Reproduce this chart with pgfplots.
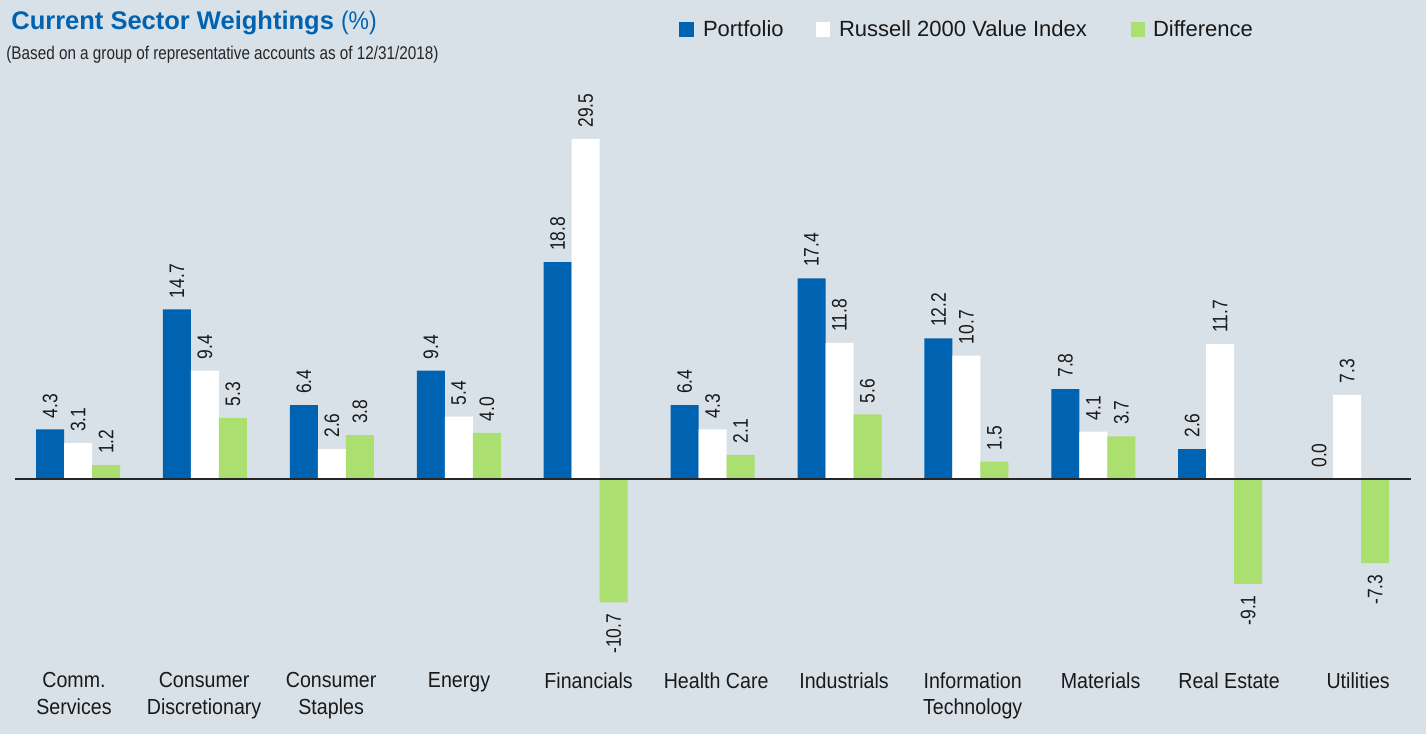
\documentclass[border=0pt]{standalone}
\usepackage{fontspec}
\setmainfont{Liberation Sans}
\newfontfamily\cond[FakeStretch=0.9]{Liberation Sans}
\newfontfamily\condB[FakeStretch=0.83]{Liberation Sans}
\usepackage{pgfplots}
\pgfplotsset{compat=1.18}
\definecolor{pblue}{RGB}{0,99,177}
\definecolor{pgreen}{RGB}{171,223,112}
\definecolor{bgc}{RGB}{217,225,232}
\definecolor{tblue}{RGB}{0,99,177}
\begin{document}
\begin{tikzpicture}
\fill[bgc] (0,0) rectangle (713pt,367pt);
\begin{axis}[
  at={(7.3pt,35.25pt)}, anchor=south west,
  scale only axis, width=698pt, height=271pt,
  xmin=-0.5, xmax=10.5, ymin=-16, ymax=31,
  axis line style={draw=none},
  ytick=\empty,
  xtick={-0.032,0.993,1.994,3.002,4.023,5.028,6.036,7.049,8.057,9.070,10.087},
  xticklabels={{Comm.\\Services},{Consumer\\Discretionary},{Consumer\\Staples},{Energy},{Financials},{Health Care},{Industrials},{Information\\Technology},{Materials},{Real Estate},{Utilities}},
  major tick length=0pt,
  x tick label style={font=\cond\fontsize{10.9}{13.3}\selectfont, align=center, anchor=north, text=black!90, yshift=-1pt},
  ybar=0pt, bar width=14pt,
  clip=false,
  nodes near coords={\pgfmathprintnumber[fixed,fixed zerofill,precision=1,assume math mode=true]{\pgfplotspointmeta}},
  visualization depends on={rawy \as \rawy},
  every node near coord/.append style={rotate=90, font=\condB\fontsize{10.5}{11}\selectfont, text=black!90, inner xsep=5.5pt, inner ysep=0pt,
    /utils/exec={\ifdim\rawy pt<0pt \gdef\myanchor{east}\else\gdef\myanchor{west}\fi},
    anchor=\myanchor},
]
\addplot[fill=pblue, draw=none] coordinates {(0,4.3) (1,14.7) (2,6.4) (3,9.4) (4,18.8) (5,6.4) (6,17.4) (7,12.2) (8,7.8) (9,2.6) (10,0.0)};
\addplot[fill=white, draw=none] coordinates {(0,3.1) (1,9.4) (2,2.6) (3,5.4) (4,29.5) (5,4.3) (6,11.8) (7,10.7) (8,4.1) (9,11.7) (10,7.3)};
\addplot[fill=pgreen, draw=none] coordinates {(0,1.2) (1,5.3) (2,3.8) (3,4.0) (4,-10.7) (5,2.1) (6,5.6) (7,1.5) (8,3.7) (9,-9.1) (10,-7.3)};
\draw[line width=0.6pt, black!85] (axis cs:-0.5,0) -- (axis cs:10.5,0);
\end{axis}
% title
\node[anchor=base west, inner sep=0, text=tblue] at (5.5pt,352pt) {\fontsize{12.75}{15}\selectfont\bfseries Current Sector Weightings {\cond\mdseries (\%)}};
\node[anchor=base west, inner sep=0, text=black!85] at (3pt,337pt) {\condB\fontsize{9.2}{11}\selectfont (Based on a group of representative accounts as of 12/31/2018)};
% legend
\fill[pblue] (339.5pt,348.5pt) rectangle (347pt,355.8pt);
\node[anchor=base west, inner sep=0, text=black!90] at (351.3pt,348.5pt) {\fontsize{11}{13}\selectfont Portfolio};
\fill[white] (408pt,348.5pt) rectangle (415pt,355.8pt);
\node[anchor=base west, inner sep=0, text=black!90] at (419.3pt,348.5pt) {\fontsize{11}{13}\selectfont Russell 2000 Value Index};
\fill[pgreen] (565.5pt,348.5pt) rectangle (572.5pt,355.8pt);
\node[anchor=base west, inner sep=0, text=black!90] at (576.3pt,348.5pt) {\fontsize{11}{13}\selectfont Difference};
\pgfresetboundingbox
\useasboundingbox (0,0) rectangle (713pt,367pt);
\end{tikzpicture}
\end{document}
